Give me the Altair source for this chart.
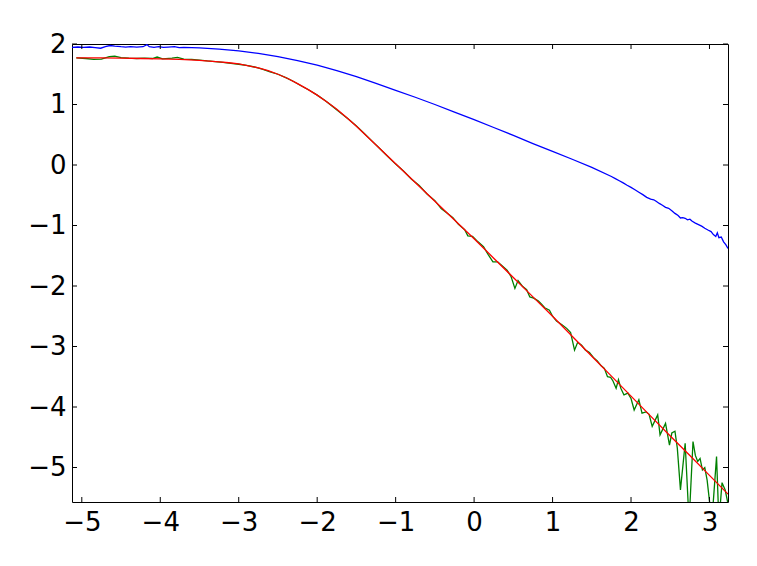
import altair as alt
import pandas as pd

# ---- data ----
x_ticks = [-5, -4, -3, -2, -1, 0, 1, 2, 3]
y_ticks = [-5, -4, -3, -2, -1, 0, 1, 2]

blue_x = [-5.125, -5.05, -4.98, -4.9, -4.83, -4.76, -4.7, -4.64, -4.58, -4.5, -4.44, -4.38,
          -4.3, -4.22, -4.17, -4.14, -4.08, -4.02, -3.96, -3.9, -3.82, -3.76, -3.7, -3.6,
          -3.5, -3.25, -3.0, -2.75, -2.5, -2.25, -2.0, -1.75, -1.5, -1.25, -1.0, -0.75,
          -0.5, -0.25, 0.0, 0.25, 0.5, 0.75, 1.0, 1.25, 1.5, 1.75, 1.8, 1.85, 1.9, 1.95,
          2.0, 2.05, 2.1, 2.15, 2.2, 2.25, 2.29, 2.32, 2.36, 2.4, 2.44, 2.48, 2.52, 2.56,
          2.6, 2.63, 2.66, 2.69, 2.72, 2.75, 2.78, 2.82, 2.86, 2.9, 2.94, 2.98, 3.02, 3.05,
          3.08, 3.1, 3.12, 3.15, 3.18, 3.21, 3.236]
blue_y = [1.945, 1.95, 1.945, 1.95, 1.94, 1.93, 1.955, 1.975, 1.965, 1.955, 1.95, 1.955,
          1.95, 1.955, 1.99, 1.955, 1.945, 1.955, 1.945, 1.95, 1.955, 1.94, 1.945, 1.94,
          1.935, 1.915, 1.885, 1.845, 1.79, 1.725, 1.65, 1.56, 1.46, 1.35, 1.235, 1.12,
          1.00, 0.875, 0.75, 0.62, 0.49, 0.355, 0.225, 0.095, -0.04, -0.19, -0.225, -0.26, -0.295, -0.335,
          -0.37, -0.41, -0.45, -0.49, -0.535, -0.565, -0.575, -0.60, -0.635, -0.665, -0.70, -0.715, -0.755, -0.80,
          -0.835, -0.875, -0.87, -0.88, -0.905, -0.895, -0.93, -0.96, -0.985, -1.01, -1.045, -1.075, -1.10, -1.15,
          -1.18, -1.12, -1.20, -1.19, -1.27, -1.32, -1.38]

green_x = [-5.07, -4.95, -4.85, -4.75, -4.65, -4.58, -4.5, -4.4, -4.3, -4.2, -4.1, -4.04,
           -3.97, -3.85, -3.78, -3.7, -3.6, -3.5, -3.4, -3.3, -3.2, -3.1, -3.0, -2.9, -2.8,
           -2.7, -2.6, -2.5, -2.4, -2.3, -2.2, -2.1, -2.0, -1.9, -1.8, -1.7, -1.6, -1.5,
           -1.4, -1.3, -1.2, -1.1, -1.0, -0.9, -0.8, -0.7, -0.6, -0.5, -0.42, -0.35, -0.27,
           -0.2, -0.12, -0.08, -0.02, 0.05, 0.12, 0.18, 0.24, 0.3, 0.36, 0.42, 0.47, 0.52,
           0.56, 0.62, 0.67, 0.71, 0.76, 0.82, 0.86, 0.9, 0.96, 1.0, 1.05, 1.12, 1.18, 1.23,
           1.28, 1.32, 1.37, 1.42, 1.47, 1.52, 1.57, 1.62, 1.66, 1.7, 1.74, 1.77, 1.81, 1.84,
           1.87, 1.91, 1.96, 2.0, 2.04, 2.1, 2.14, 2.19, 2.23, 2.27, 2.34, 2.37, 2.44, 2.49,
           2.52, 2.56, 2.59, 2.63, 2.69, 2.74, 2.79, 2.82, 2.85, 2.88, 2.91, 2.94, 2.97,
           3.03, 3.09, 3.12, 3.16, 3.2, 3.236]
green_y = [1.77, 1.76, 1.745, 1.75, 1.79, 1.80, 1.775, 1.765, 1.76, 1.765, 1.76, 1.785,
           1.755, 1.765, 1.78, 1.75, 1.745, 1.735, 1.72, 1.71, 1.695, 1.68, 1.665, 1.645, 1.62,
           1.585, 1.54, 1.50, 1.445, 1.38, 1.305, 1.235, 1.155, 1.065, 0.965, 0.86, 0.755, 0.645,
           0.52, 0.395, 0.27, 0.14, 0.015, -0.10, -0.23, -0.34, -0.48, -0.59, -0.72, -0.79, -0.87,
           -0.98, -1.07, -1.17, -1.18, -1.27, -1.35, -1.48, -1.60, -1.60, -1.67, -1.74, -1.84, -2.04,
           -1.91, -2.01, -2.06, -2.18, -2.20, -2.25, -2.30, -2.36, -2.40, -2.50, -2.58, -2.64, -2.70, -2.77,
           -3.06, -2.93, -2.98, -3.06, -3.10, -3.18, -3.24, -3.32, -3.36, -3.50, -3.51, -3.57, -3.69, -3.55,
           -3.69, -3.80, -3.77, -3.86, -4.05, -3.88, -4.10, -4.08, -4.12, -4.32, -4.13, -4.46, -4.27, -4.63,
           -4.43, -4.40, -4.68, -5.37, -4.60, -5.90, -4.57, -4.80, -4.90, -4.85, -5.04, -5.00, -5.21,
           -5.90, -4.82, -5.90, -5.25, -5.37, -5.60]

red_x = [-5.07, -4.75, -4.5, -4.25, -4.0, -3.75, -3.5, -3.25, -3.125, -3.0, -2.875, -2.75,
         -2.625, -2.5, -2.375, -2.25, -2.125, -2.0, -1.875, -1.75, -1.625, -1.5, -1.25, -1.0,
         -0.75, -0.5, -0.25, 0.0, 0.25, 0.5, 0.75, 1.0, 1.25, 1.5, 1.75, 2.0, 2.25, 2.5,
         2.75, 3.0, 3.236]
red_y = [1.77, 1.77, 1.767, 1.76, 1.755, 1.745, 1.73, 1.705, 1.69, 1.67, 1.64, 1.605,
         1.56, 1.50, 1.43, 1.345, 1.255, 1.155, 1.04, 0.92, 0.785, 0.64, 0.33, 0.02,
         -0.29, -0.60, -0.91, -1.22, -1.54, -1.86, -2.18, -2.50, -2.83, -3.16, -3.49, -3.82, -4.15, -4.48,
         -4.80, -5.13, -5.44]

W, H = 656, 458
FONT = "DejaVu Sans"
FS = 26

xs = alt.Scale(domain=[-5.125, 3.236], nice=False, zero=False)
ys = alt.Scale(domain=[-5.57, 2.0], nice=False, zero=False)

minus_expr = "datum.value < 0 ? '\u2212' + abs(datum.value) : '' + datum.value"

x_axis = alt.Axis(values=x_ticks, ticks=False, tickSize=0, domain=False, grid=False,
                  labelExpr=minus_expr, labelFont=FONT, labelFontSize=FS, labelColor="black",
                  labelPadding=7, title=None, labelFlush=False, labelOverlap=False)
y_axis = alt.Axis(values=y_ticks, ticks=False, tickSize=0, domain=False, grid=False,
                  labelExpr=minus_expr, labelFont=FONT, labelFontSize=FS, labelColor="black",
                  labelPadding=6, title=None, labelFlush=False, labelOverlap=False)

blue_df = pd.DataFrame({"x": blue_x, "y": blue_y})
green_df = pd.DataFrame({"x": green_x, "y": green_y})
red_df = pd.DataFrame({"x": red_x, "y": red_y})


def line(df, color):
    return alt.Chart(df).mark_line(color=color, strokeWidth=1.3, clip=True).encode(
        x=alt.X("x:Q", scale=xs, axis=x_axis),
        y=alt.Y("y:Q", scale=ys, axis=y_axis),
    )


xt = pd.DataFrame({"t": x_ticks})
yt = pd.DataFrame({"t": y_ticks})

tick_style = dict(color="black", strokeWidth=1)
top_ticks = alt.Chart(xt).mark_rule(**tick_style).encode(
    x=alt.X("t:Q", scale=xs, axis=x_axis), y=alt.value(0), y2=alt.value(5))
bot_ticks = alt.Chart(xt).mark_rule(**tick_style).encode(
    x=alt.X("t:Q", scale=xs, axis=x_axis), y=alt.value(H - 5), y2=alt.value(H))
left_ticks = alt.Chart(yt).mark_rule(**tick_style).encode(
    y=alt.Y("t:Q", scale=ys, axis=y_axis), x=alt.value(0), x2=alt.value(5))
right_ticks = alt.Chart(yt).mark_rule(**tick_style).encode(
    y=alt.Y("t:Q", scale=ys, axis=y_axis), x=alt.value(W - 5), x2=alt.value(W))

chart = alt.layer(
    line(blue_df, "#0000ff"),
    line(green_df, "#008000"),
    line(red_df, "#ff0000"),
    top_ticks, bot_ticks, left_ticks, right_ticks,
).properties(
    width=W, height=H,
    autosize=alt.AutoSizeParams(type="none"),
    padding={"left": 64, "top": 36, "right": 21, "bottom": 40},
    background="white",
).configure_view(
    stroke="black", strokeWidth=1
)

chart.save("out.html", embed_options={"renderer": "svg", "actions": False})
